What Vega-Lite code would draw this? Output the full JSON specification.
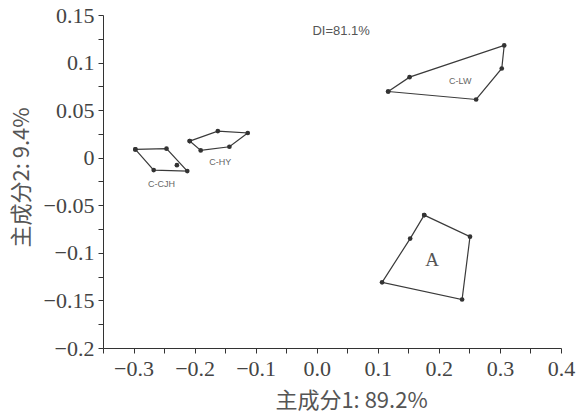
{
  "$schema": "https://vega.github.io/schema/vega-lite/v6.json",
  "autosize": "none",
  "width": 458,
  "height": 333,
  "padding": {"left": 103, "top": 15, "right": 21, "bottom": 66},
  "background": "white",
  "config": {
    "view": {"stroke": null},
    "axis": {
      "labelFont": "Liberation Serif", "labelFontSize": 22, "labelColor": "#444",
      "titleFont": "Noto Sans CJK SC", "titleFontSize": 22, "titleFontWeight": "normal", "titleColor": "#555",
      "grid": false, "domainColor": "#333", "tickColor": "#333", "tickSize": 5,
      "labelFlush": false, "labelOverlap": false
    }
  },
  "datasets": {
    "pts": [
      {"group": "C-CJH", "x": -0.297, "y": 0.0087, "ord": 1},
      {"group": "C-CJH", "x": -0.246, "y": 0.0095, "ord": 2},
      {"group": "C-CJH", "x": -0.212, "y": -0.014, "ord": 3},
      {"group": "C-CJH", "x": -0.267, "y": -0.013, "ord": 4},
      {"group": "C-CJH", "x": -0.297, "y": 0.0087, "ord": 5},
      {"group": "C-CJH", "x": -0.229, "y": -0.0078, "ord": null},
      {"group": "C-HY", "x": -0.208, "y": 0.0175, "ord": 1},
      {"group": "C-HY", "x": -0.162, "y": 0.028, "ord": 2},
      {"group": "C-HY", "x": -0.113, "y": 0.026, "ord": 3},
      {"group": "C-HY", "x": -0.143, "y": 0.0115, "ord": 4},
      {"group": "C-HY", "x": -0.190, "y": 0.0077, "ord": 5},
      {"group": "C-HY", "x": -0.208, "y": 0.0175, "ord": 6},
      {"group": "C-LW", "x": 0.117, "y": 0.0696, "ord": 1},
      {"group": "C-LW", "x": 0.152, "y": 0.0847, "ord": 2},
      {"group": "C-LW", "x": 0.307, "y": 0.118, "ord": 3},
      {"group": "C-LW", "x": 0.303, "y": 0.0938, "ord": 4},
      {"group": "C-LW", "x": 0.261, "y": 0.0612, "ord": 5},
      {"group": "C-LW", "x": 0.117, "y": 0.0696, "ord": 6},
      {"group": "A", "x": 0.176, "y": -0.0603, "ord": 1},
      {"group": "A", "x": 0.251, "y": -0.083, "ord": 2},
      {"group": "A", "x": 0.238, "y": -0.149, "ord": 3},
      {"group": "A", "x": 0.107, "y": -0.131, "ord": 4},
      {"group": "A", "x": 0.153, "y": -0.085, "ord": 5},
      {"group": "A", "x": 0.176, "y": -0.0603, "ord": 6}
    ],
    "labels": [
      {"x": -0.254, "y": -0.028, "text": "C-CJH", "kind": "small"},
      {"x": -0.158, "y": -0.004, "text": "C-HY", "kind": "small"},
      {"x": 0.235, "y": 0.081, "text": "C-LW", "kind": "small"},
      {"x": 0.189, "y": -0.108, "text": "A", "kind": "big"},
      {"x": 0.04, "y": 0.133, "text": "DI=81.1%", "kind": "di"}
    ]
  },
  "encoding": {
    "x": {
      "field": "x", "type": "quantitative",
      "scale": {"domain": [-0.35, 0.4], "nice": false, "zero": false},
      "axis": {
        "title": "主成分1: 89.2%",
        "titlePadding": 11,
        "titleX": 248,
        "values": [-0.35, -0.3, -0.25, -0.2, -0.15, -0.1, -0.05, 0, 0.05, 0.1, 0.15, 0.2, 0.25, 0.3, 0.35, 0.4],
        "labelExpr": "abs(round(datum.value*100)) % 10 == 0 ? replace(format(datum.value, '.1f'), '-', '−') : ''",
        "labelPadding": 5
      }
    },
    "y": {
      "field": "y", "type": "quantitative",
      "scale": {"domain": [-0.2, 0.15], "nice": false, "zero": false},
      "axis": {
        "title": "主成分2: 9.4%",
        "titlePadding": 10,
        "titleY": 162,
        "values": [-0.2, -0.175, -0.15, -0.125, -0.1, -0.075, -0.05, -0.025, 0, 0.025, 0.05, 0.075, 0.1, 0.125, 0.15],
        "labelExpr": "abs(round(datum.value*1000)) % 50 == 0 ? replace(format(datum.value, '.3~f'), '-', '−') : ''",
        "labelPadding": 4
      }
    }
  },
  "layer": [
    {
      "data": {"name": "pts"},
      "transform": [{"filter": "datum.ord != null"}],
      "mark": {"type": "line", "color": "#3a3a3a", "strokeWidth": 1.2},
      "encoding": {
        "detail": {"field": "group"},
        "order": {"field": "ord"}
      }
    },
    {
      "data": {"name": "pts"},
      "mark": {"type": "point", "filled": true, "color": "#333", "size": 22, "opacity": 1},
      "encoding": {}
    },
    {
      "data": {"name": "labels"},
      "transform": [{"filter": "datum.kind == 'small'"}],
      "mark": {"type": "text", "font": "Liberation Sans", "fontSize": 9, "color": "#666"},
      "encoding": {"text": {"field": "text"}}
    },
    {
      "data": {"name": "labels"},
      "transform": [{"filter": "datum.kind == 'big'"}],
      "mark": {"type": "text", "font": "Liberation Serif", "fontSize": 19, "color": "#555"},
      "encoding": {"text": {"field": "text"}}
    },
    {
      "data": {"name": "labels"},
      "transform": [{"filter": "datum.kind == 'di'"}],
      "mark": {"type": "text", "font": "Liberation Sans", "fontSize": 13, "color": "#555"},
      "encoding": {"text": {"field": "text"}}
    }
  ]
}
